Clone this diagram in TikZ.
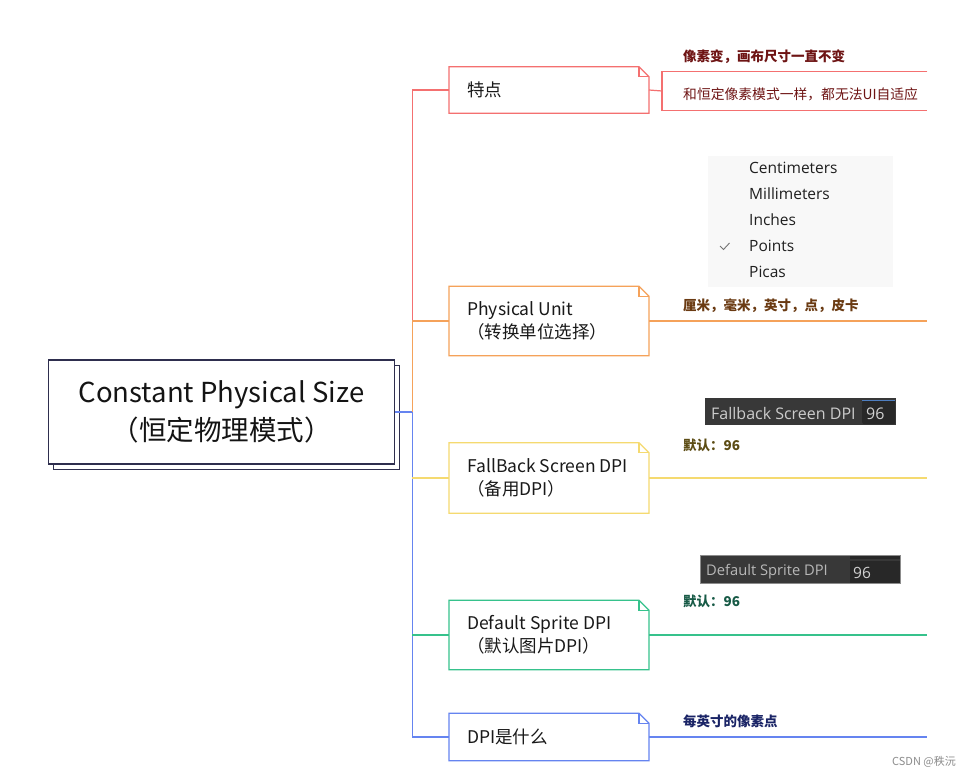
\documentclass[tikz,border=0pt]{standalone}
\usepackage{fontspec}
\setmainfont{Noto Sans CJK SC}
\newfontfamily\uifont{Open Sans}
\usetikzlibrary{calc}
\definecolor{cred}{HTML}{F47070}
\definecolor{corange}{HTML}{F5A25A}
\definecolor{cyellow}{HTML}{F5DA70}
\definecolor{cgreen}{HTML}{36C28C}
\definecolor{cblue}{HTML}{6584F0}
\definecolor{cnavy}{HTML}{2E2E4E}
\definecolor{tred}{HTML}{6E1414}
\definecolor{tbrown}{HTML}{6A3A12}
\definecolor{tolive}{HTML}{5C4C14}
\definecolor{tgreen}{HTML}{175A46}
\definecolor{tnavy}{HTML}{1A2466}
\definecolor{ddbg}{HTML}{F8F8F8}
\definecolor{darkui}{HTML}{383838}
\definecolor{darkfield}{HTML}{282828}
\definecolor{uiblue}{HTML}{4E7EC0}
\tikzset{
  mainbox/.style={draw=cnavy, fill=white, line width=1.2pt, minimum width=346pt, minimum height=104pt, inner sep=0pt},
  leaf/.style={anchor=west, inner xsep=18pt, inner ysep=0pt, align=left, font=\fontsize{17.5}{23}\selectfont, text=black!90},
  lab/.style={anchor=west, inner sep=0pt, font=\fontsize{13.5}{16}\selectfont\bfseries},
  ddtext/.style={anchor=west, inner sep=0pt, font=\uifont\fontsize{15.5}{16}\selectfont, text=black!88},
  uitext/.style={anchor=west, inner sep=0pt, font=\uifont\fontsize{16}{16}\selectfont, text=black!20},
  conn/.style={line width=1.2pt},
}
\begin{document}
\begin{tikzpicture}[x=1pt,y=-1pt]
\useasboundingbox (0,0) rectangle (971,778);
\fill[white] (0,0) rectangle (971,778);

% main node with shadow copy
\node[mainbox] (mainshadow) at (226.5,417.5) {};
\node[mainbox, align=center, font=\fontsize{27.5}{38}\selectfont, text=black!92] (main) at (221.5,412) {Constant Physical Size\\（恒定物理模式）};

% child nodes (boxes are 200pt wide, drawn below)
\node[leaf, minimum height=46pt] (c1) at (449,90) {特点};
\node[leaf, minimum height=69pt] (c2) at (449,321) {Physical Unit\\（转换单位选择）};
\node[leaf, minimum height=70pt] (c3) at (449,478) {FallBack Screen DPI\\（备用DPI）};
\node[leaf, minimum height=69pt] (c4) at (449,635) {Default Sprite DPI\\（默认图片DPI）};
\node[leaf, minimum height=47pt] (c5) at (449,737) {DPI是什么};

\foreach \n/\c in {c1/cred, c2/corange, c3/cyellow, c4/cgreen, c5/cblue}{
  \coordinate (\n-ne) at ($(\n.north west)+(200,0)$);
  \coordinate (\n-se) at ($(\n.south west)+(200,0)$);
  \coordinate (\n-e) at ($(\n.west)+(200,0)$);
  \draw[conn, draw=\c] (\n.north west) -- ($(\n-ne)+(-10,0)$) -- ($(\n-ne)+(0,10)$) -- (\n-se) -- (\n.south west) -- cycle;
  \draw[conn, draw=\c] ($(\n-ne)+(-10,0)$) |- ($(\n-ne)+(0,10)$);
}

% spine
\coordinate (sx) at ($(main.east)+(17,0)$);
\coordinate (rx) at (927,0);
\draw[conn, cblue] (main.east) -- (sx);
\draw[conn, cred] (c1.west) -- (c1.west -| sx) -- (c2.west -| sx);
\draw[conn, corange] (c2.west) -- (c2.west -| sx) -- (sx);
\draw[conn, cblue] (sx) -- (c5.west -| sx) -- (c5.west);
\draw[conn, cyellow] (c3.west -| sx) -- (c3.west);
\draw[conn, cgreen] (c4.west -| sx) -- (c4.west);

% right lines
\draw[conn, corange] (c2-e) -- (c2-e -| rx);
\draw[conn, cyellow] (c3-e) -- (c3-e -| rx);
\draw[conn, cgreen] (c4-e) -- (c4-e -| rx);
\draw[conn, cblue] (c5-e) -- (c5-e -| rx);

% 特点 sub box
\node[anchor=west, minimum width=265pt, minimum height=38pt, inner xsep=21pt, inner ysep=0pt, text width=223pt, align=left,
      font=\fontsize{13.8}{16}\selectfont, text=tred] (s1) at (662,91) {\raisebox{-4pt}[0.8em][0.2em]{和恒定像素模式一样，都无法UI自适应}};
\draw[conn, cred] (s1.north east) -- (s1.north west) -- (s1.south west) -- (s1.south east);
\draw[conn, cred] (c1-e) -- (s1.west);

% labels
\node[lab, text=tred] (l1) at (683,57) {像素变，画布尺寸一直不变};
\node[lab, text=tbrown] (l2) at (683,306) {厘米，毫米，英寸，点，皮卡};
\node[lab, text=tolive] (l3) at (683,445) {默认：96};
\node[lab, text=tgreen] (l4) at (683,601) {默认：96};
\node[lab, text=tnavy] (l5) at (683,721) {每英寸的像素点};

% dropdown
\node[fill=ddbg, anchor=north west, minimum width=185pt, minimum height=131pt, inner sep=0pt] (dd) at (708,156) {};
\node[ddtext] (d1) at (749,168) {Centimeters};
\node[ddtext] (d2) at (749,194) {Millimeters};
\node[ddtext] (d3) at (749,220) {Inches};
\node[ddtext] (d4) at (749,246) {Points};
\node[ddtext] (d5) at (749,272) {Picas};
\draw[black!55, line width=0.9pt] (720,246) -- (723.5,249.5) -- (729.5,243);

% fallback screen dpi widget
\node[fill=darkui, anchor=north west, minimum width=191pt, minimum height=27pt, inner sep=0pt] (fb) at (705,398) {};
\node[fill=darkfield, rounded corners=2pt, anchor=north west, minimum width=33pt, minimum height=24pt, inner sep=0pt] (fbf) at (862,400) {};
\draw[line width=1pt, draw=uiblue] (fbf.north west) -- (fbf.north east);
\node[uitext] (fbt) at (711,413) {Fallback Screen DPI};
\node[uitext, font=\uifont\fontsize{16}{16}\selectfont, text=black!18] (fbv) at (866,414) {96};

% default sprite dpi widget
\node[fill=darkui, draw=black!45, anchor=north west, minimum width=200pt, minimum height=28pt, inner sep=0pt] (ds) at (700,555) {};
\node[fill=darkfield, anchor=north west, minimum width=50pt, minimum height=22pt, inner sep=0pt] (dsf) at (850,561) {};
\node[fill=darkfield, anchor=north west, minimum width=50pt, minimum height=3pt, inner sep=0pt] (dsf0) at (850,555.5) {};
\node[uitext, font=\uifont\fontsize{14.7}{16}\selectfont, text=black!28] (dst) at (706,572) {Default Sprite DPI};
\node[uitext, font=\uifont\fontsize{15.5}{16}\selectfont, text=black!18] (dsv) at (853,573) {96};

% watermark
\node[anchor=east, inner sep=0pt, font=\fontsize{11}{12}\selectfont, text=black!45] (wm) at (956,762) {CSDN @秩沅};
\end{tikzpicture}
\end{document}
